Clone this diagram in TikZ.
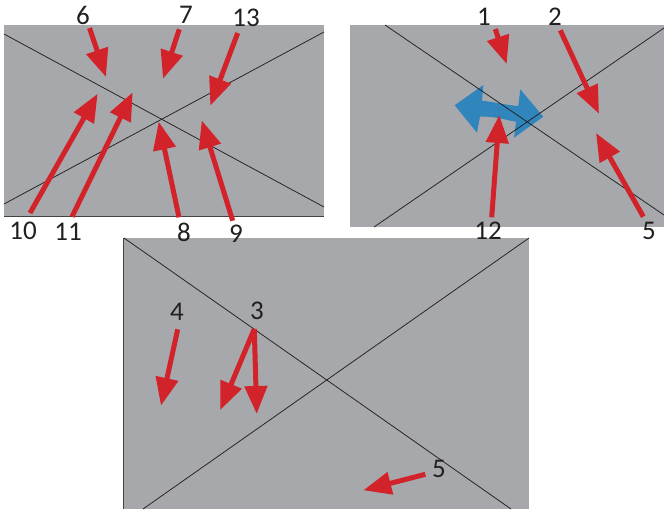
\documentclass[tikz,border=0pt]{standalone}
\usepackage{fontspec}
\setmainfont{Carlito}
\usetikzlibrary{arrows.meta}
\definecolor{panelgrey}{HTML}{A7A8AB}
\definecolor{arrowred}{HTML}{D2232A}
\definecolor{arrowblue}{HTML}{3085BD}
\definecolor{inkdark}{HTML}{231F20}
\tikzset{
  panel/.style={fill=panelgrey,draw=none},
  cross/.style={draw=inkdark,line width=0.75pt},
  edge/.style={draw=inkdark!75!panelgrey,line width=1pt},
  redarrow/.style={draw=arrowred,line width=5pt,-{Triangle[length=28pt,width=22pt]}},
  num/.style={text=inkdark,font=\fontsize{27}{27}\selectfont,inner sep=0pt}
}
\begin{document}
\begin{tikzpicture}[x=1pt,y=-1pt]
\useasboundingbox (0,0) rectangle (664,509);
% panels
\fill[panel] (4,25) rectangle (324,216);
\fill[panel] (350,25) rectangle (664,227);
\fill[panel] (124,238) rectangle (529,509);
\draw[edge] (4,216) -- (324,216);
\draw[edge] (123.7,238) -- (123.7,509);
% blue double arrow
\fill[arrowblue] (454.7,105.3) -- (483.3,85) -- (482,100.7)
  .. controls (495,102) and (505,105) .. (518.3,106)
  -- (520.3,89.3) -- (543.3,116.7) -- (514,137.7) -- (516,121.7)
  .. controls (505,120) and (495,116) .. (480,116.7)
  -- (477,132.7) -- cycle;
% diagonals
\coordinate (pa1) at (4,34);   \coordinate (pa2) at (324,207);
\coordinate (pa3) at (4,204);  \coordinate (pa4) at (324,32);
\coordinate (pb1) at (385,25); \coordinate (pb2) at (664,215);
\coordinate (pb3) at (374,227);\coordinate (pb4) at (664,28);
\coordinate (pc1) at (124,238);\coordinate (pc2) at (511,509);
\coordinate (pc3) at (143,509);\coordinate (pc4) at (529,238);
\draw[cross] (pa1) -- (pa2);
\draw[cross] (pa3) -- (pa4);
\draw[cross] (pb1) -- (pb2);
\draw[cross] (pb3) -- (pb4);
\draw[cross] (pc1) -- (pc2);
\draw[cross] (pc3) -- (pc4);
% labels
\node[num] (n6) at (83,15) {6};
\node[num] (n7) at (186,15) {7};
\node[num] (n13) at (246,18) {13};
\node[num] (n10) at (23,231) {10};
\node[num] (n11) at (68,232) {11};
\node[num] (n8) at (184,232) {8};
\node[num] (n9) at (236,234) {9};
\node[num] (n1) at (484,17) {1};
\node[num] (n2) at (555,17) {2};
\node[num] (n12) at (488,231) {12};
\node[num] (n5a) at (649,231) {5};
\node[num] (n4) at (177,312) {4};
\node[num] (n3) at (257,311) {3};
\node[num] (n5b) at (439,469) {5};
% arrow ends
\coordinate (s6) at (89.5,28);    \coordinate (t6) at (106,77);
\coordinate (s7) at (179.3,29.3); \coordinate (t7) at (163,78.7);
\coordinate (s13) at (237.7,33);  \coordinate (t13) at (210.3,105.7);
\coordinate (s10) at (30,213);    \coordinate (t10) at (97.7,93.7);
\coordinate (s11) at (72,216.7);  \coordinate (t11) at (132.7,92.3);
\coordinate (s8) at (179,217.3);  \coordinate (t8) at (158.7,121.7);
\coordinate (s9) at (232.7,220.7);\coordinate (t9) at (201.7,120.3);
\coordinate (s1) at (495.3,29);   \coordinate (t1) at (506.7,64);
\coordinate (s2) at (560.3,30.3); \coordinate (t2) at (599,113.7);
\coordinate (s5a) at (643.3,216.7);\coordinate (t5a) at (596,133);
\coordinate (s12) at (491.7,217.3);\coordinate (t12) at (499.3,115);
\coordinate (s4) at (177.7,329.3);\coordinate (t4) at (161,405.7);
\coordinate (s3) at (254.3,329);  \coordinate (t3a) at (220.3,410);
\coordinate (t3b) at (256.7,414);
\coordinate (s5b) at (425.3,474.3);\coordinate (t5b) at (363.3,490.3);
\foreach \s/\t in {s6/t6,s7/t7,s13/t13,s10/t10,s11/t11,s8/t8,s9/t9,s1/t1,s2/t2,s5a/t5a,s12/t12,s4/t4,s3/t3a,s3/t3b,s5b/t5b}
  \draw[redarrow] (\s) -- (\t);
\end{tikzpicture}
\end{document}
